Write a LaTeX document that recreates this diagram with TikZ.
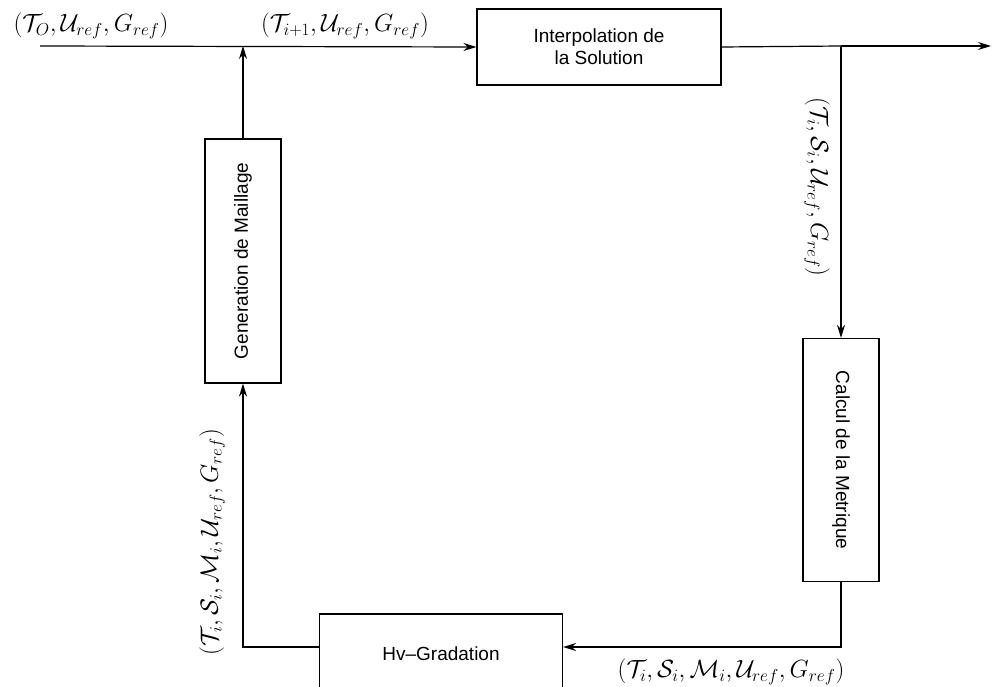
\documentclass[tikz,border=0pt]{standalone}
\usepackage{fontspec}
\usepackage{graphicx}
\setsansfont{Liberation Sans}
\usetikzlibrary{arrows.meta,positioning}

\tikzset{
  bloc/.style={draw, line width=1.2pt, font=\sffamily\fontsize{19}{22}\selectfont, align=center, inner sep=0pt},
  fleche/.style={-{Stealth[length=13pt,width=8pt]}},
  etiq/.style={font=\fontsize{25.5}{30}\selectfont, inner sep=0pt},
}

\begin{document}
\begin{tikzpicture}[x=1pt, y=-1pt, line width=1.2pt]
        \clip (0,0) rectangle (992,687);

        % Blocs
        \node[bloc, minimum width=244pt, minimum height=76pt] (interp) at (599,47) {Interpolation de\\la Solution};
        \node[bloc, minimum width=76pt, minimum height=243pt] (metrique) at (841,460) {\rotatebox{-90}{Calcul de la Metrique}};
        \node[bloc, minimum width=243pt, minimum height=80pt] (gradation) at (441,654) {Hv--Gradation};
        \node[bloc, minimum width=76pt, minimum height=244pt] (maillage) at (243,261) {\rotatebox{90}{Generation de Maillage}};

        % Points de la boucle
        \coordinate (entree) at (40,46);
        \coordinate (jonction) at (243,46);
        \coordinate (split) at (841,46);
        \coordinate (sortie) at (991,46);

        % Connexions
        \draw[fleche] (entree) -- (interp.west);
        \draw[fleche] (maillage.north) -- (jonction);
        \draw (interp.east) -- (split);
        \draw[fleche] (split) -- (sortie);
        \draw[fleche] (split) -- (metrique.north);
        \draw[fleche] (metrique.south) |- ([yshift=7pt]gradation.east);
        \draw[fleche] ([yshift=7pt]gradation.west) -| (maillage.south);

        % Etiquettes
        \node[etiq] (lab0) at (91,26) {$(\mathcal{T}_O,\mathcal{U}_{ref},G_{ref})$};
        \node[etiq] (lab1) at (345,26) {$(\mathcal{T}_{i+1},\mathcal{U}_{ref},G_{ref})$};
        \node[etiq, rotate=-90] (lab2) at (817,187) {$(\mathcal{T}_i,\mathcal{S}_i,\mathcal{U}_{ref},G_{ref})$};
        \node[etiq] (lab3) at (731,672) {$(\mathcal{T}_i,\mathcal{S}_i,\mathcal{M}_i,\mathcal{U}_{ref},G_{ref})$};
        \node[etiq, rotate=90] (lab4) at (212,542) {$(\mathcal{T}_i,\mathcal{S}_i,\mathcal{M}_i,\mathcal{U}_{ref},G_{ref})$};
\end{tikzpicture}
\end{document}
